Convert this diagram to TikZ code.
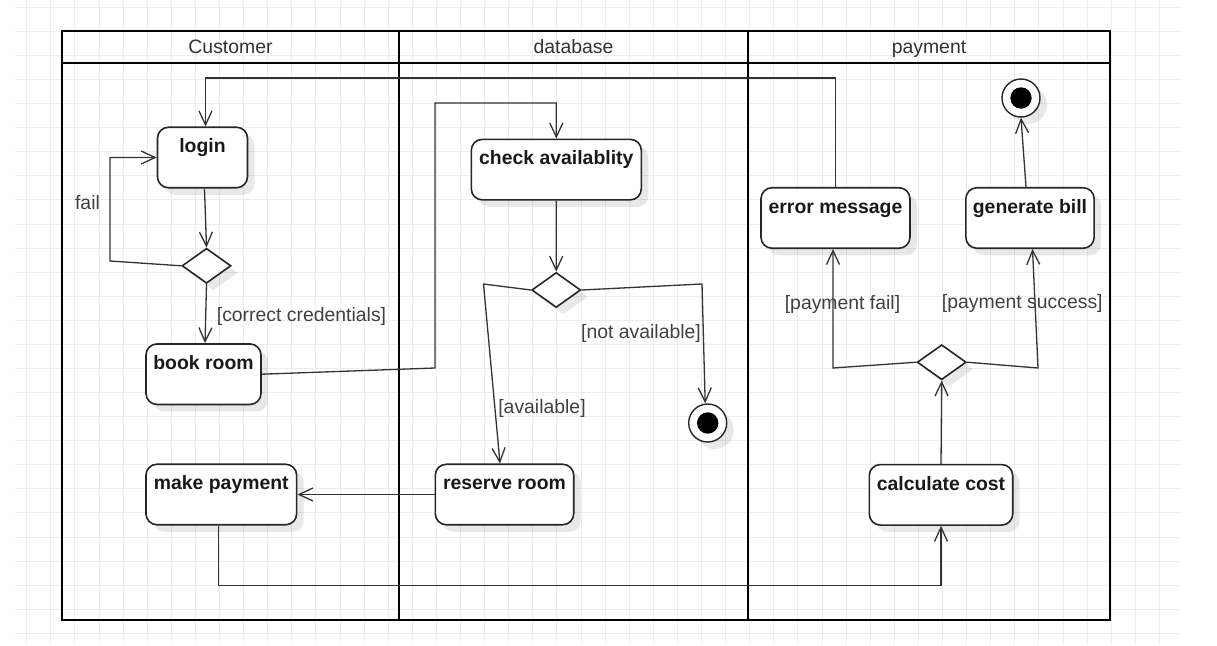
\documentclass[tikz,border=0pt]{standalone}
\usepackage{fontspec}
\setmainfont{Liberation Sans}
\usetikzlibrary{arrows.meta,shapes.geometric,shadows,calc}
\newcommand{\fsz}{\fontsize{19.4pt}{23pt}\selectfont}
\begin{document}
\begin{tikzpicture}[x=1pt,y=-1pt,
  gridline/.style={draw=black!7, line width=1pt},
  lane/.style={draw=black, line width=2.8pt},
  lanehead/.style={font=\fsz, text=black!80, inner sep=0pt, anchor=base},
  softshadow/.style={drop shadow={shadow xshift=7pt, shadow yshift=-7pt, opacity=0.09, fill=black}},
  act/.style={draw=black!85, line width=1.6pt, rounded corners=11pt, fill=white, inner sep=0pt,
    text height=25.5pt, text depth=35pt, font=\fsz\bfseries, text=black!90, softshadow},
  decision/.style={diamond, draw=black!85, line width=1.6pt, fill=white, inner sep=0pt,
    minimum width=49pt, minimum height=35pt, softshadow},
  final/.style={circle, draw=black!85, line width=1.4pt, fill=white, minimum size=38pt, inner sep=0pt,
    path picture={\fill[black] (path picture bounding box.center) circle (10.7pt);}, softshadow},
  edge/.style={draw=black!80, line width=1.3pt, -{Straight Barb[length=14pt,width=13pt]}},
  guard/.style={font=\fsz, text=black!75, inner sep=0pt}
]
\useasboundingbox (0,0) rectangle (1217,645);
\fill[white] (0,0) rectangle (1217,645);
% grid
\foreach \i in {0,...,47} \draw[gridline] ({26.7+24.1*\i},0) -- ({26.7+24.1*\i},645);
\foreach \j in {0,...,26} \draw[gridline] (15,{7.3+24.08*\j}) -- (1180,{7.3+24.08*\j});
% lanes
\draw[lane] (62,31) rectangle (1110,620);
\draw[lane, line width=2.2pt] (62,63) -- (1110,63);
\draw[lane] (399,31) -- (399,620);
\draw[lane] (748,31) -- (748,620);
\node[lanehead] (hcust) at (230.5,53.5) {Customer};
\node[lanehead] (hdb) at (573.5,53.5) {database};
\node[lanehead] (hpay) at (929,53.5) {payment};
% activities
\node[act, minimum width=90pt] (login) at (202.5,157.5) {login};
\node[act, minimum width=115pt] (book) at (203.5,374.2) {book room};
\node[act, minimum width=150.7pt] (pay) at (221.3,494.5) {make payment};
\node[act, minimum width=170pt] (check) at (556.3,169.6) {check availablity};
\node[act, minimum width=138.4pt] (reserve) at (504.5,494.5) {reserve room};
\node[act, minimum width=149pt] (err) at (835.5,218) {error message};
\node[act, minimum width=128.3pt] (bill) at (1030,218) {generate bill};
\node[act, minimum width=143.4pt] (calc) at (941,494.8) {calculate cost};
% decisions
\node[decision] (d1) at (206.5,265.8) {};
\node[decision] (d2) at (556.2,290) {};
\node[decision] (d3) at (941.7,362.2) {};
% finals
\node[final] (end1) at (707.7,423) {};
\node[final] (end2) at (1021,98) {};
% bend points
\coordinate (f1) at (110,261);
\coordinate (b1) at (435,368);
\coordinate (b2) at (435,103);
\coordinate (a1) at (483.5,284);
\coordinate (a2) at (702,284);
\coordinate (p1) at (833,368);
\coordinate (p2) at (1038,368);
% edges
\draw[edge] (err.north) -- ++(0,-109) -| ([xshift=3pt]login.north);
\draw[edge] ([xshift=2pt]login.south) -- (d1.north);
\draw[edge] (d1.west) -- (f1) |- (login.west);
\draw[edge] (d1.south) -- ([xshift=1.5pt]book.north);
\draw[edge] (book.east) -- (b1) -- (b2) -| (check.north);
\draw[edge] (check.south) -- (d2.north);
\draw[edge] (d2.west) -- (a1) -- ([xshift=-4.5pt]reserve.north);
\draw[edge] (d2.east) -- (a2) -- ([xshift=-2.5pt]end1.north);
\draw[edge] (reserve.west) -- (reserve.west -| pay.east);
\draw[edge] ([xshift=-3pt]pay.south) -- ++(0,60) -| (calc.south);
\draw[edge] (calc.north) -- (d3.south);
\draw[edge] (d3.west) -- (p1) -- (p1 |- err.south);
\draw[edge] (d3.east) -- (p2) -- ([xshift=2.5pt]bill.south);
\draw[edge] ([xshift=-4pt]bill.north) -- (end2.south);
% guards
\node[guard] (gfail) at (87.5,203) {fail};
\node[guard] (gcred) at (301.5,316) {[correct credentials]};
\node[guard] (gavail) at (542,408) {[available]};
\node[guard] (gnot) at (641,333) {[not available]};
\node[guard] (gpfail) at (842.5,304.3) {[payment fail]};
\node[guard] (gpsucc) at (1022.3,303.3) {[payment success]};
\end{tikzpicture}
\end{document}
